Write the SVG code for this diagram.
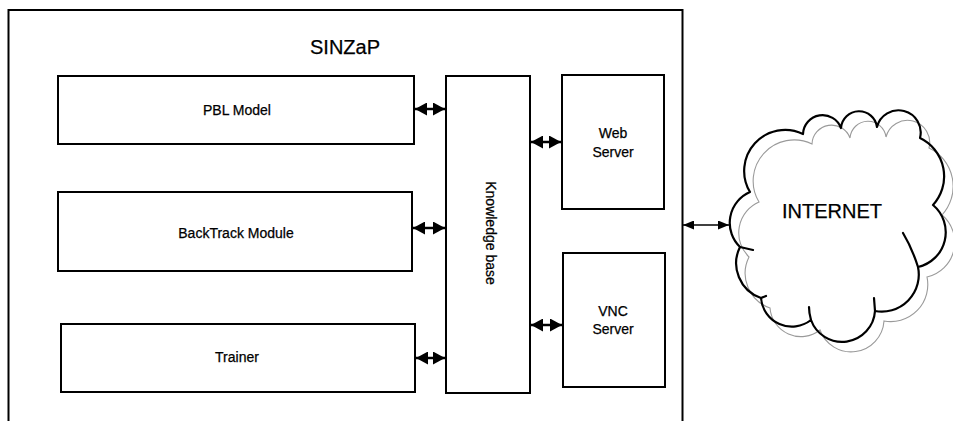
<svg xmlns="http://www.w3.org/2000/svg" width="953" height="421" viewBox="0 0 953 421">
<defs>
<style>
.box{fill:#fff;stroke:#000;stroke-width:2}
.t{font-family:"Liberation Sans",Arial,sans-serif;font-size:14px;fill:#000;text-anchor:middle;stroke:#000;stroke-width:0.25}
.big{font-size:20px}
.con{stroke:#000;stroke-width:2.5;fill:none}
.net{stroke:#000;stroke-width:1.6;fill:none}
.cloud{fill:none;stroke:#000;stroke-width:2.2;stroke-linejoin:round;stroke-linecap:round}
.shadow{fill:none;stroke:#9a9a9a;stroke-width:1.1}
</style>
<marker id="ah" viewBox="0 0 12 13" refX="12" refY="6.5" markerWidth="12" markerHeight="13" markerUnits="userSpaceOnUse" orient="auto-start-reverse">
<path d="M0,0 L12,6.5 L0,13 Z" fill="#000"/>
</marker>
<marker id="ahs" viewBox="0 0 11 9" refX="11" refY="4.5" markerWidth="11" markerHeight="9" markerUnits="userSpaceOnUse" orient="auto-start-reverse">
<path d="M0,0 L11,4.5 L0,9 Z" fill="#000"/>
</marker>
<path id="cloudpath" d="M740,247 A33.6,33.6 0 0 1 750,192 A41,41 0 0 1 803,134 A19.6,19.6 0 0 1 841,128 A18.1,18.1 0 0 1 877,127 A22,22 0 0 1 920,138 A42.5,42.5 0 0 1 933,205 A35.6,35.6 0 0 1 918,267 A37,37 0 0 1 875,311 A33,33 0 0 1 811,320 A31,31 0 0 1 761,298 A36.7,36.7 0 0 1 740,247 Z"/>
</defs>

<g id="frame">
<rect x="8.5" y="10" width="674" height="430" fill="none" stroke="#000" stroke-width="2"/>
<text class="t big" x="345" y="54">SINZaP</text>
</g>

<g id="pbl">
<rect class="box" x="58" y="76" width="356" height="68"/>
<text class="t" x="237" y="115">PBL Model</text>
</g>

<g id="backtrack">
<rect class="box" x="58" y="192" width="354" height="79"/>
<text class="t" x="236" y="238">BackTrack Module</text>
</g>

<g id="trainer">
<rect class="box" x="61" y="324" width="354" height="68"/>
<text class="t" x="237" y="362">Trainer</text>
</g>

<g id="knowledge">
<rect class="box" x="446" y="76" width="84" height="317"/>
<text class="t" transform="translate(486,233) rotate(90)">Knowledge base</text>
</g>

<g id="web">
<rect class="box" x="562" y="75" width="102" height="134"/>
<text class="t" x="613" y="138">Web</text>
<text class="t" x="613" y="157">Server</text>
</g>

<g id="vnc">
<rect class="box" x="563" y="253" width="102" height="134"/>
<text class="t" x="613" y="316">VNC</text>
<text class="t" x="613" y="334">Server</text>
</g>

<g id="internet">
<use href="#cloudpath" class="shadow" transform="translate(9,10)"/>
<use href="#cloudpath" class="cloud"/>
<path class="cloud" d="M918,267 Q912,248 903,233 M875,311 L874,298 M811,320 Q809,313 809,307 M761,298 L766,296 M740,247 L753,250"/>
<text class="t big" x="832" y="218">INTERNET</text>
</g>

<g id="connectors">
<line class="con" x1="415" y1="109" x2="445" y2="109" marker-start="url(#ah)" marker-end="url(#ah)"/>
<line class="con" x1="413" y1="228" x2="445" y2="228" marker-start="url(#ah)" marker-end="url(#ah)"/>
<line class="con" x1="416" y1="358" x2="445" y2="358" marker-start="url(#ah)" marker-end="url(#ah)"/>
<line class="con" x1="531" y1="142" x2="561" y2="142" marker-start="url(#ah)" marker-end="url(#ah)"/>
<line class="con" x1="531" y1="325" x2="562" y2="325" marker-start="url(#ah)" marker-end="url(#ah)"/>
<line class="net" x1="683" y1="225" x2="729" y2="225" marker-start="url(#ahs)" marker-end="url(#ahs)"/>
</g>
</svg>
